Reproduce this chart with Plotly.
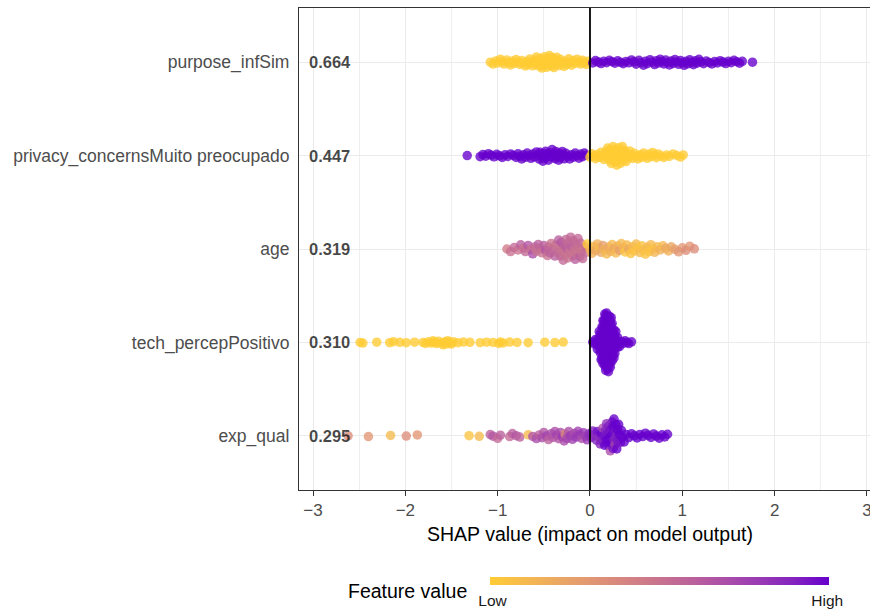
import numpy as np
import plotly.graph_objects as go

# ---------------- data ----------------
features = ["exp_qual", "tech_percepPositivo", "age",
            "privacy_concernsMuito preocupado", "purpose_infSim"]  # bottom -> top
mean_abs_shap = [0.295, 0.310, 0.319, 0.447, 0.664]

# purpose_infSim: feature value 0 (low) and 1 (high)
purpose_low = [-1.08, -1.05, -1.02, -1.0, -0.97, -0.95, -0.93, -0.9, -0.88, -0.86, -0.84, -0.82,
               -0.8, -0.78, -0.76, -0.74, -0.72, -0.7, -0.68, -0.67, -0.65, -0.63, -0.62, -0.6,
               -0.59, -0.58, -0.56, -0.55, -0.54, -0.53, -0.52, -0.51, -0.5, -0.49, -0.48, -0.47,
               -0.46, -0.45, -0.44, -0.43, -0.42, -0.41, -0.4, -0.39, -0.38, -0.37, -0.36, -0.35,
               -0.33, -0.32, -0.3, -0.28, -0.27, -0.25, -0.23, -0.21, -0.2, -0.18, -0.16, -0.14,
               -0.12, -0.1, -0.08, -0.06, -0.04, -0.02]
purpose_high = [0.03, 0.06, 0.09, 0.12, 0.15, 0.18, 0.21, 0.24, 0.27, 0.3, 0.33, 0.36, 0.39, 0.42,
                0.45, 0.48, 0.5, 0.53, 0.55, 0.58, 0.6, 0.62, 0.65, 0.67, 0.7, 0.72, 0.74, 0.76,
                0.78, 0.8, 0.82, 0.84, 0.86, 0.88, 0.9, 0.92, 0.94, 0.96, 0.98, 1.0, 1.02, 1.04,
                1.06, 1.08, 1.1, 1.12, 1.14, 1.16, 1.18, 1.2, 1.23, 1.26, 1.29, 1.32, 1.35, 1.38,
                1.41, 1.44, 1.47, 1.5, 1.53, 1.56, 1.59, 1.62, 1.65, 1.76]

# privacy_concernsMuito preocupado
privacy_high = [-1.33, -1.19, -1.16, -1.13, -1.1, -1.07, -1.04, -1.01, -0.98, -0.95, -0.92, -0.89,
                -0.86, -0.83, -0.8, -0.78, -0.76, -0.74, -0.72, -0.7, -0.68, -0.66, -0.64, -0.62,
                -0.6, -0.58, -0.56, -0.55, -0.54, -0.52, -0.51, -0.5, -0.49, -0.48, -0.46, -0.45,
                -0.44, -0.42, -0.41, -0.4, -0.38, -0.37, -0.36, -0.34, -0.33, -0.32, -0.3, -0.29,
                -0.28, -0.26, -0.24, -0.22, -0.2, -0.18, -0.16, -0.14, -0.12, -0.1, -0.08, -0.06, -0.04]
privacy_low = [0.0, 0.02, 0.04, 0.06, 0.08, 0.1, 0.12, 0.14, 0.15, 0.17, 0.18, 0.19, 0.2, 0.21,
               0.22, 0.22, 0.23, 0.24, 0.25, 0.25, 0.26, 0.27, 0.28, 0.28, 0.29, 0.3, 0.3, 0.31,
               0.32, 0.33, 0.33, 0.34, 0.35, 0.36, 0.36, 0.37, 0.38, 0.39, 0.4, 0.42, 0.43, 0.45,
               0.46, 0.48, 0.5, 0.52, 0.54, 0.56, 0.58, 0.6, 0.62, 0.64, 0.66, 0.68, 0.7, 0.72,
               0.74, 0.77, 0.8, 0.83, 0.86, 0.9, 0.94, 0.98, 1.01]

# age (continuous feature value, 0 = low, 1 = high)
age_shap = [-0.9, -0.86, -0.82, -0.78, -0.75, -0.72, -0.7, -0.67, -0.64, -0.62, -0.6, -0.58,
            -0.56, -0.54, -0.52, -0.5, -0.48, -0.46, -0.45, -0.43, -0.42, -0.4, -0.38, -0.37,
            -0.35, -0.34, -0.33, -0.32, -0.31, -0.3, -0.29, -0.28, -0.27, -0.26, -0.25, -0.24,
            -0.23, -0.22, -0.21, -0.2, -0.19, -0.18, -0.17, -0.16, -0.15, -0.14, -0.13, -0.12,
            -0.11, -0.1, -0.09, -0.08, -0.06, -0.04, -0.03,
            0.0, 0.02, 0.04, 0.06, 0.08, 0.1, 0.12, 0.14, 0.16, 0.18, 0.2, 0.22, 0.24, 0.26,
            0.28, 0.3, 0.32, 0.34, 0.36, 0.38, 0.4, 0.42, 0.44, 0.46, 0.48, 0.5, 0.52, 0.54,
            0.56, 0.58, 0.6, 0.62, 0.64, 0.66, 0.68, 0.7, 0.73, 0.76, 0.79, 0.82, 0.85, 0.88,
            0.92, 0.96, 1.0, 1.04, 1.08, 1.13]
age_fval = [0.45, 0.5, 0.55, 0.5, 0.6, 0.5, 0.55, 0.65, 0.5, 0.7, 0.55, 0.5,
            0.6, 0.55, 0.5, 0.6, 0.65, 0.5, 0.55, 0.6, 0.5, 0.55, 0.6, 0.5,
            0.55, 0.6, 0.5, 0.55, 0.65, 0.5, 0.55, 0.6, 0.5, 0.55, 0.6, 0.5,
            0.55, 0.5, 0.55, 0.6, 0.5, 0.55, 0.5, 0.6, 0.55, 0.5, 0.55, 0.5,
            0.6, 0.55, 0.5, 0.55, 0.5, 0.55, 0.0,
            0.1, 0.15, 0.1, 0.2, 0.15, 0.1, 0.2, 0.25, 0.15, 0.1, 0.2, 0.15, 0.1, 0.2,
            0.1, 0.15, 0.25, 0.1, 0.15, 0.05, 0.1, 0.2, 0.05, 0.1, 0.05, 0.1, 0.05, 0.1,
            0.05, 0.08, 0.05, 0.1, 0.05, 0.1, 0.05, 0.12, 0.1, 0.15, 0.1, 0.2, 0.15, 0.2,
            0.25, 0.3, 0.3, 0.35, 0.3, 0.35]

# tech_percepPositivo
tech_low = [-2.49, -2.46, -2.31, -2.17, -2.13, -2.06, -1.99, -1.9, -1.81, -1.78, -1.75, -1.72,
            -1.7, -1.68, -1.66, -1.64, -1.6, -1.59, -1.57, -1.55, -1.54, -1.52, -1.5, -1.48,
            -1.43, -1.37, -1.3, -1.19, -1.12, -1.05, -0.99, -0.97, -0.94, -0.87, -0.79, -0.67,
            -0.49, -0.38, -0.29]
tech_high = [0.03, 0.05, 0.06, 0.07, 0.08, 0.09, 0.1, 0.1, 0.11, 0.11, 0.11,
             0.12, 0.12, 0.12, 0.12, 0.13, 0.13, 0.13, 0.13, 0.13,
             0.14, 0.14, 0.14, 0.14, 0.14, 0.14, 0.15, 0.15, 0.15, 0.15, 0.15, 0.15, 0.15,
             0.16, 0.16, 0.16, 0.16, 0.16, 0.16, 0.16, 0.17, 0.17, 0.17, 0.17, 0.17, 0.17, 0.17, 0.17,
             0.18, 0.18, 0.18, 0.18, 0.18, 0.18, 0.18, 0.18, 0.19, 0.19, 0.19, 0.19, 0.19, 0.19, 0.19, 0.19,
             0.2, 0.2, 0.2, 0.2, 0.2, 0.2, 0.2, 0.2, 0.21, 0.21, 0.21, 0.21, 0.21, 0.21, 0.21,
             0.22, 0.22, 0.22, 0.22, 0.22, 0.22, 0.22, 0.23, 0.23, 0.23, 0.23, 0.23, 0.23,
             0.24, 0.24, 0.24, 0.24, 0.24, 0.25, 0.25, 0.25, 0.25, 0.26, 0.26, 0.26, 0.26,
             0.27, 0.27, 0.27, 0.28, 0.28, 0.28, 0.3, 0.3, 0.32, 0.32, 0.34, 0.36, 0.38, 0.4,
             0.42, 0.45]

# exp_qual (continuous)
exp_shap = [-2.62, -2.4, -2.16, -1.99, -1.87, -1.31, -1.2, -1.08, -1.05, -1.0, -0.97, -0.87,
            -0.84, -0.8, -0.76, -0.67, -0.62, -0.58, -0.55, -0.52, -0.5, -0.47, -0.45, -0.42,
            -0.4, -0.38, -0.36, -0.34, -0.32, -0.3, -0.28, -0.27, -0.25, -0.23, -0.21, -0.19,
            -0.17, -0.15, -0.13, -0.11, -0.09, -0.07, -0.05, -0.03, -0.01,
            0.01, 0.03, 0.05, 0.07, 0.08, 0.1, 0.11, 0.12, 0.13, 0.14, 0.15, 0.16, 0.17, 0.18,
            0.18, 0.19, 0.2, 0.2, 0.21, 0.22, 0.22, 0.23, 0.24, 0.24, 0.25, 0.25, 0.26, 0.26,
            0.27, 0.27, 0.28, 0.28, 0.29, 0.3, 0.3, 0.31, 0.32, 0.33, 0.34, 0.35, 0.37,
            0.39, 0.42, 0.45, 0.48, 0.51, 0.54, 0.57, 0.6, 0.63, 0.66, 0.69, 0.72, 0.75, 0.78,
            0.81, 0.84]
exp_fval = [0.35, 0.3, 0.1, 0.35, 0.3, 0.05, 0.1, 0.6, 0.65, 0.55, 0.6, 0.55,
            0.6, 0.65, 0.6, 0.1, 0.65, 0.7, 0.6, 0.7, 0.65, 0.75, 0.6, 0.7,
            0.65, 0.7, 0.75, 0.65, 0.7, 0.8, 0.7, 0.35, 0.75, 0.7, 0.8, 0.75,
            0.7, 0.8, 0.75, 0.8, 0.7, 0.8, 0.75, 0.8, 0.85,
            0.85, 0.9, 0.85, 0.9, 0.95, 0.85, 0.9, 1.0, 0.9, 0.7, 0.95, 1.0, 0.9, 1.0,
            0.85, 0.95, 1.0, 0.9, 1.0, 0.7, 0.95, 1.0, 0.9, 1.0, 0.95, 1.0, 0.9, 1.0,
            0.95, 0.75, 1.0, 0.9, 1.0, 1.0, 0.95, 1.0, 1.0, 0.95, 1.0, 1.0, 1.0,
            1.0, 1.0, 1.0, 1.0, 1.0, 1.0, 1.0, 1.0, 1.0, 1.0, 1.0, 1.0, 1.0, 1.0,
            1.0, 1.0]

# ---------------- colour scale (Lab interpolation low -> high) ----------------
LOW_HEX, HIGH_HEX = "#FFCC33", "#6600CC"


def _hex2rgb(h):
    h = h.lstrip("#")
    return [int(h[i:i + 2], 16) / 255 for i in (0, 2, 4)]


def _rgb2lab(rgb):
    lin = [((c + 0.055) / 1.055) ** 2.4 if c > 0.04045 else c / 12.92 for c in rgb]
    x = (0.4124 * lin[0] + 0.3576 * lin[1] + 0.1805 * lin[2]) / 0.95047
    y = (0.2126 * lin[0] + 0.7152 * lin[1] + 0.0722 * lin[2])
    z = (0.0193 * lin[0] + 0.1192 * lin[1] + 0.9505 * lin[2]) / 1.08883
    f = lambda t: t ** (1 / 3) if t > 0.008856 else 7.787 * t + 16 / 116
    fx, fy, fz = f(x), f(y), f(z)
    return [116 * fy - 16, 500 * (fx - fy), 200 * (fy - fz)]


def _lab2rgb(lab):
    L, a, b = lab
    fy = (L + 16) / 116
    fx = fy + a / 500
    fz = fy - b / 200
    finv = lambda t: t ** 3 if t ** 3 > 0.008856 else (t - 16 / 116) / 7.787
    x, y, z = finv(fx) * 0.95047, finv(fy), finv(fz) * 1.08883
    r = 3.2406 * x - 1.5372 * y - 0.4986 * z
    g = -0.9689 * x + 1.8758 * y + 0.0415 * z
    bb = 0.0557 * x - 0.2040 * y + 1.0570 * z
    out = []
    for c in (r, g, bb):
        c = 1.055 * c ** (1 / 2.4) - 0.055 if c > 0.0031308 else 12.92 * c
        out.append(int(round(min(max(c, 0), 1) * 255)))
    return "rgb(%d,%d,%d)" % tuple(out)


lab_lo, lab_hi = _rgb2lab(_hex2rgb(LOW_HEX)), _rgb2lab(_hex2rgb(HIGH_HEX))
colorscale = []
for i in range(11):
    t = i / 10
    colorscale.append([t, _lab2rgb([lab_lo[k] + (lab_hi[k] - lab_lo[k]) * t for k in range(3)])])

# ---------------- sina-style layout of points ----------------
ROW_MAX_HALFWIDTH = [0.19, 0.33, 0.13, 0.11, 0.075]  # style: y-units per row


def sina_offsets(x, maxw, h=0.05):
    x = np.asarray(x, float)
    c = np.array([(np.abs(x - xi) <= h + 1e-9).sum() for xi in x], float)
    w = maxw * c / c.max()
    order = np.argsort(x, kind="stable")
    u = np.empty(len(x))
    phi = 0.6180339887498949
    for k, idx in enumerate(order):
        u[idx] = 2 * ((k * phi + 0.5) % 1.0) - 1
    return w * u


rows = [
    (exp_shap, exp_fval),
    (tech_low + tech_high, [0.0] * len(tech_low) + [1.0] * len(tech_high)),
    (age_shap, age_fval),
    (privacy_high + privacy_low, [1.0] * len(privacy_high) + [0.0] * len(privacy_low)),
    (purpose_low + purpose_high, [0.0] * len(purpose_low) + [1.0] * len(purpose_high)),
]

fig = go.Figure()
FONT = "Liberation Sans, Arial, sans-serif"

for r, (xs, fv) in enumerate(rows):
    ypos = (r + 1) + sina_offsets(xs, ROW_MAX_HALFWIDTH[r])
    fig.add_trace(go.Scatter(
        x=xs, y=ypos, mode="markers", showlegend=False, hoverinfo="skip",
        marker=dict(size=9.5, color=fv, colorscale=colorscale, cmin=0, cmax=1,
                    opacity=0.78, line=dict(width=0),
                    showscale=(r == 0),
                    colorbar=dict(orientation="h", x=0.632, xanchor="center", xref="paper",
                                  y=-0.181, yanchor="top", yref="paper",
                                  len=339, lenmode="pixels", thickness=8, thicknessmode="pixels",
                                  outlinewidth=0, tickvals=[0, 1],
                                  ticktext=["\u00a0Low", "High\u00a0"],
                                  ticks="outside", ticklen=3, tickcolor="rgba(0,0,0,0)",
                                  tickfont=dict(size=15.5, color="#1A1A1A", family=FONT),
                                  xpad=0, ypad=0)),
    ))

annotations = []
for r, v in enumerate(mean_abs_shap):
    annotations.append(dict(x=-3.06, y=r + 1, xref="x", yref="y", xanchor="left", yanchor="middle",
                            text="<b>%.3f</b>" % v, showarrow=False,
                            font=dict(size=16.5, color="rgba(0,0,0,0.72)", family=FONT)))
annotations.append(dict(x=0.5088, y=-0.0905, xref="paper", yref="paper", xanchor="center",
                        yanchor="middle", text="SHAP value (impact on model output)",
                        showarrow=False, font=dict(size=19.5, color="#000000", family=FONT)))
annotations.append(dict(x=0.297, y=-0.21, xref="paper", yref="paper", xanchor="right",
                        yanchor="middle", text="Feature value", showarrow=False,
                        font=dict(size=19.5, color="#000000", family=FONT)))

fig.update_layout(
    width=870, height=610,
    margin=dict(l=299, r=0, t=8, b=117),
    paper_bgcolor="white", plot_bgcolor="white",
    font=dict(family=FONT),
    annotations=annotations,
    shapes=[dict(type="line", x0=0, x1=0, xref="x", y0=0, y1=1, yref="paper",
                 line=dict(color="black", width=1.8), layer="above")],
    xaxis=dict(range=[-3.152, 3.033], tickvals=[-3, -2, -1, 0, 1, 2, 3],
               ticks="outside", ticklen=5, tickwidth=1.1, tickcolor="#333333",
               tickfont=dict(size=17, color="#4D4D4D"), ticklabeloverflow="allow",
               showgrid=True, gridcolor="#EBEBEB", gridwidth=1.1,
               minor=dict(dtick=0.5, tick0=0, showgrid=True, gridcolor="#EFEFEF", gridwidth=0.7),
               showline=True, linecolor="#333333", linewidth=1.1, mirror=True,
               zeroline=False, automargin=False),
    yaxis=dict(range=[0.42, 5.58], tickvals=[1, 2, 3, 4, 5], ticktext=features,
               tickfont=dict(size=17.5, color="#4D4D4D"), ticks="", ticklabelstandoff=5,
               showgrid=True, gridcolor="#EBEBEB", gridwidth=1.1,
               showline=True, linecolor="#333333", linewidth=1.1, mirror=False,
               zeroline=False, automargin=False),
)

fig.write_html("out.html")
